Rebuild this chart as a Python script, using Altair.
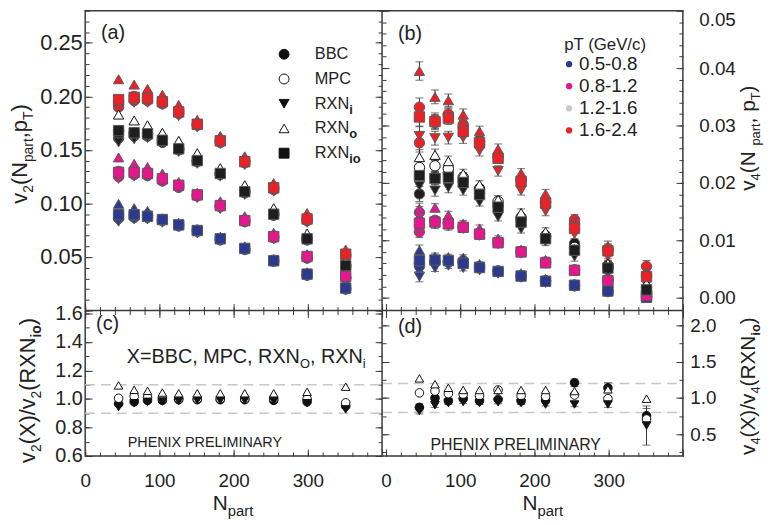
import altair as alt
import pandas as pd

FONT = "Liberation Sans"
INK = "#222222"
FRAME = "#3a3a3a"

# ---------------- categories ----------------
NPART = [45, 66, 84, 104, 126, 151, 182, 215, 254, 299, 351]
METHODS = ["BBC", "MPC", "RXNi", "RXNo", "RXNio"]
METHOD_SHAPES = ["circle", "circle", "triangle-down", "triangle-up", "square"]
OPEN_METHODS = ["MPC", "RXNo"]
LEGEND_MAIN = ["BBC", "MPC", "RXN", "RXN", "RXN"]
LEGEND_SUB = ["", "", "i", "o", "io"]
PT_BINS = ["0.5-0.8", "0.8-1.2", "1.2-1.6", "1.6-2.4"]
PT_MARKER_COLORS = ["#2b3a8f", "#e5168e", "#1e1e1e", "#ec2128"]
PT_LEGEND_COLORS = ["#2b3a8f", "#e5168e", "#c9c9c9", "#ec2128"]
RATIO_METHODS = ["BBC", "MPC", "RXNi", "RXNo"]

# ---------------- (a) v2 ----------------
V2_PT1_BBC = [0.086, 0.087, 0.087, 0.084, 0.079, 0.074, 0.066, 0.057, 0.046, 0.033, 0.020]
V2_PT1_MPC = [0.090, 0.090, 0.089, 0.085, 0.080, 0.075, 0.067, 0.058, 0.047, 0.034, 0.021]
V2_PT1_RXNI = [0.083, 0.085, 0.085, 0.082, 0.078, 0.072, 0.065, 0.056, 0.045, 0.032, 0.019]
V2_PT1_RXNO = [0.0996, 0.0956, 0.093, 0.086, 0.082, 0.076, 0.069, 0.060, 0.048, 0.0357, 0.023]
V2_PT1_RXNIO = [0.0895, 0.0895, 0.088, 0.085, 0.080, 0.0747, 0.067, 0.058, 0.0465, 0.034, 0.021]

V2_PT2_BBC = [0.125, 0.127, 0.126, 0.121, 0.115, 0.107, 0.097, 0.083, 0.068, 0.049, 0.030]
V2_PT2_MPC = [0.130, 0.131, 0.129, 0.123, 0.117, 0.108, 0.098, 0.084, 0.069, 0.050, 0.031]
V2_PT2_RXNI = [0.123, 0.125, 0.125, 0.120, 0.114, 0.105, 0.0947, 0.082, 0.0665, 0.048, 0.0296]
V2_PT2_RXNO = [0.143, 0.137, 0.134, 0.128, 0.120, 0.110, 0.102, 0.088, 0.0726, 0.0526, 0.034]
V2_PT2_RXNIO = [0.129, 0.129, 0.128, 0.123, 0.117, 0.108, 0.098, 0.084, 0.069, 0.0505, 0.032]

V2_PT3_BBC = [0.161, 0.163, 0.163, 0.157, 0.150, 0.139, 0.127, 0.110, 0.089, 0.066, 0.040]
V2_PT3_MPC = [0.168, 0.166, 0.165, 0.159, 0.151, 0.140, 0.128, 0.111, 0.090, 0.067, 0.042]
V2_PT3_RXNI = [0.157, 0.160, 0.161, 0.156, 0.148, 0.137, 0.125, 0.108, 0.088, 0.065, 0.039]
V2_PT3_RXNO = [0.183, 0.1775, 0.173, 0.166, 0.1585, 0.147, 0.133, 0.117, 0.0956, 0.072, 0.0465]
V2_PT3_RXNIO = [0.168, 0.166, 0.165, 0.159, 0.151, 0.140, 0.128, 0.111, 0.090, 0.067, 0.042]

V2_PT4_BBC = [0.190, 0.196, 0.196, 0.193, 0.184, 0.173, 0.157, 0.138, 0.113, 0.084, 0.051]
V2_PT4_MPC = [0.195, 0.200, 0.199, 0.195, 0.186, 0.174, 0.159, 0.140, 0.115, 0.085, 0.052]
V2_PT4_RXNI = [0.188, 0.194, 0.194, 0.192, 0.1815, 0.171, 0.1555, 0.136, 0.111, 0.082, 0.0495]
V2_PT4_RXNO = [0.216, 0.211, 0.207, 0.2015, 0.192, 0.178, 0.163, 0.144, 0.119, 0.091, 0.057]
V2_PT4_RXNIO = [0.197, 0.199, 0.198, 0.195, 0.1855, 0.174, 0.1585, 0.139, 0.1146, 0.0855, 0.0526]

# ---------------- (b) v4 ----------------
V4_PT1_BBC = [0.0060, 0.0062, 0.0062, 0.0065, 0.0052, 0.0047, 0.0038, 0.0030, 0.0021, 0.0011, 0.0001]
V4_PT1_MPC = [0.0055, 0.0064, 0.0064, 0.0062, 0.0054, 0.0046, 0.0038, 0.0030, 0.0022, 0.0012, 0.0002]
V4_PT1_RXNI = [0.0037, 0.0052, 0.0056, 0.0052, 0.0048, 0.0042, 0.0035, 0.0026, 0.0019, 0.0010, 0.0000]
V4_PT1_RXNO = [0.0083, 0.0072, 0.0071, 0.0070, 0.0059, 0.0049, 0.0043, 0.0033, 0.0025, 0.0015, 0.0004]
V4_PT1_RXNIO = [0.0065, 0.0066, 0.0065, 0.0060, 0.0053, 0.0046, 0.0038, 0.0029, 0.0022, 0.0012, 0.0001]

V4_PT2_BBC = [0.0149, 0.0133, 0.0130, 0.0124, 0.0112, 0.0096, 0.0080, 0.0062, 0.0048, 0.0031, 0.0003]
V4_PT2_MPC = [0.0115, 0.0135, 0.0131, 0.0124, 0.0112, 0.0097, 0.0081, 0.0062, 0.0049, 0.0031, 0.0005]
V4_PT2_RXNI = [0.0120, 0.0128, 0.0125, 0.0120, 0.0108, 0.0094, 0.0077, 0.0059, 0.0046, 0.0028, 0.0002]
V4_PT2_RXNO = [0.0155, 0.0157, 0.0144, 0.0129, 0.0121, 0.0103, 0.0084, 0.0066, 0.0050, 0.0034, 0.0008]
V4_PT2_RXNIO = [0.0130, 0.0132, 0.0129, 0.0123, 0.0111, 0.0096, 0.0080, 0.0061, 0.0048, 0.0030, 0.0004]

V4_PT3_BBC = [0.0181, 0.0211, 0.0218, 0.0203, 0.0182, 0.0160, 0.0135, 0.0105, 0.0095, 0.0057, 0.0018]
V4_PT3_MPC = [0.0227, 0.0230, 0.0225, 0.0210, 0.0190, 0.0168, 0.0140, 0.0108, 0.0088, 0.0053, 0.0012]
V4_PT3_RXNI = [0.0195, 0.0187, 0.0192, 0.0187, 0.0167, 0.0141, 0.0120, 0.0098, 0.0072, 0.0043, 0.0009]
V4_PT3_RXNO = [0.0245, 0.0249, 0.0238, 0.0216, 0.0197, 0.0171, 0.0148, 0.0115, 0.0085, 0.0060, 0.0025]
V4_PT3_RXNIO = [0.0213, 0.0208, 0.0210, 0.0201, 0.0180, 0.0158, 0.0132, 0.0103, 0.0083, 0.0052, 0.0014]

V4_PT4_BBC = [0.0270, 0.0310, 0.0318, 0.0302, 0.0272, 0.0247, 0.0205, 0.0168, 0.0136, 0.0085, 0.0055]
V4_PT4_MPC = [0.0332, 0.0305, 0.0320, 0.0298, 0.0268, 0.0245, 0.0205, 0.0166, 0.0130, 0.0083, 0.0040]
V4_PT4_RXNI = [0.0282, 0.0278, 0.0279, 0.0279, 0.0256, 0.0221, 0.0187, 0.0151, 0.0111, 0.0072, 0.0029]
V4_PT4_RXNO = [0.0395, 0.0350, 0.0344, 0.0319, 0.0290, 0.0259, 0.0217, 0.0181, 0.0128, 0.0090, 0.0045]
V4_PT4_RXNIO = [0.0315, 0.0307, 0.0313, 0.0290, 0.0270, 0.0243, 0.0203, 0.0165, 0.0121, 0.0082, 0.0037]

V4_ERR_PT1 = [0.0009, 0.0006, 0.0005, 0.0005, 0.0004, 0.0004, 0.0004, 0.0004, 0.0005, 0.0005, 0.0006]
V4_ERR_PT2 = [0.0010, 0.0007, 0.0007, 0.0006, 0.0006, 0.0005, 0.0005, 0.0005, 0.0006, 0.0006, 0.0007]
V4_ERR_PT3 = [0.0013, 0.0010, 0.0009, 0.0008, 0.0007, 0.0007, 0.0007, 0.0007, 0.0008, 0.0008, 0.0009]
V4_ERR_PT4 = [0.0016, 0.0012, 0.0011, 0.0010, 0.0009, 0.0009, 0.0008, 0.0008, 0.0009, 0.0009, 0.0010]

# ---------------- (c) v2 ratios ----------------
R2_BBC = [0.966, 0.980, 0.990, 0.990, 0.995, 0.995, 0.995, 0.995, 0.990, 0.980, 0.950]
R2_MPC = [1.005, 1.018, 1.010, 1.005, 1.000, 1.000, 1.000, 1.000, 1.000, 1.000, 0.973]
R2_RXNI = [0.943, 0.970, 0.980, 0.982, 0.985, 0.990, 0.990, 0.990, 0.985, 0.970, 0.927]
R2_RXNO = [1.095, 1.064, 1.057, 1.045, 1.040, 1.040, 1.040, 1.040, 1.040, 1.050, 1.086]

# ---------------- (d) v4 ratios ----------------
R4_BBC = [0.87, 1.00, 0.96, 0.99, 0.96, 0.98, 0.96, 0.97, 1.21, 1.14, 0.755]
R4_MPC = [1.07, 1.095, 1.06, 1.05, 1.03, 1.11, 1.03, 1.02, 1.04, 0.99, 0.71]
R4_RXNI = [0.82, 0.90, 0.93, 0.945, 0.93, 0.94, 0.93, 0.91, 0.91, 0.91, 0.62]
R4_RXNO = [1.27, 1.19, 1.14, 1.11, 1.11, 1.11, 1.11, 1.11, 1.095, 1.12, 0.99]
R4_ERR_BBC = [0.05, 0.03, 0.03, 0.02, 0.02, 0.02, 0.02, 0.02, 0.05, 0.07, 0.10]
R4_ERR_RXNI = [0.04, 0.03, 0.02, 0.02, 0.02, 0.02, 0.02, 0.02, 0.03, 0.04, 0.27]

C_BANDS = [0.9, 1.1]
D_BANDS = [0.8, 1.2]

V2_TABLE = {
    "0.5-0.8": [V2_PT1_BBC, V2_PT1_MPC, V2_PT1_RXNI, V2_PT1_RXNO, V2_PT1_RXNIO],
    "0.8-1.2": [V2_PT2_BBC, V2_PT2_MPC, V2_PT2_RXNI, V2_PT2_RXNO, V2_PT2_RXNIO],
    "1.2-1.6": [V2_PT3_BBC, V2_PT3_MPC, V2_PT3_RXNI, V2_PT3_RXNO, V2_PT3_RXNIO],
    "1.6-2.4": [V2_PT4_BBC, V2_PT4_MPC, V2_PT4_RXNI, V2_PT4_RXNO, V2_PT4_RXNIO],
}
V4_TABLE = {
    "0.5-0.8": [V4_PT1_BBC, V4_PT1_MPC, V4_PT1_RXNI, V4_PT1_RXNO, V4_PT1_RXNIO],
    "0.8-1.2": [V4_PT2_BBC, V4_PT2_MPC, V4_PT2_RXNI, V4_PT2_RXNO, V4_PT2_RXNIO],
    "1.2-1.6": [V4_PT3_BBC, V4_PT3_MPC, V4_PT3_RXNI, V4_PT3_RXNO, V4_PT3_RXNIO],
    "1.6-2.4": [V4_PT4_BBC, V4_PT4_MPC, V4_PT4_RXNI, V4_PT4_RXNO, V4_PT4_RXNIO],
}
V4_ERRORS = {"0.5-0.8": V4_ERR_PT1, "0.8-1.2": V4_ERR_PT2, "1.2-1.6": V4_ERR_PT3, "1.6-2.4": V4_ERR_PT4}
R2_TABLE = [R2_BBC, R2_MPC, R2_RXNI, R2_RXNO]
R4_TABLE = [R4_BBC, R4_MPC, R4_RXNI, R4_RXNO]
R4_ERRORS = {"BBC": R4_ERR_BBC, "RXNi": R4_ERR_RXNI}

# ---------------- layout ----------------
W, H = 604, 450
SPLIT_X, SPLIT_Y = 300, 303


def sc(domain, rng):
    return alt.Scale(domain=domain, range=rng, nice=False, zero=False)


XA_DOM, XB_DOM = [0, 400], [-16 / 3, 400]
YA_DOM, YB_DOM, YC_DOM, YD_DOM = [0, 0.28], [-0.0022, 0.05], [0.6, 1.62], [0.2, 2.205]
XA = sc(XA_DOM, [0, SPLIT_X])
XB = sc(XB_DOM, [SPLIT_X, W])
YA = sc(YA_DOM, [SPLIT_Y, 0])
YB = sc(YB_DOM, [SPLIT_Y, 0])
YC = sc(YC_DOM, [H, SPLIT_Y])
YD = sc(YD_DOM, [H, SPLIT_Y])
SHAPE_SCALE = alt.Scale(domain=METHODS, range=METHOD_SHAPES)


def build_points(table, errors=None):
    rows = []
    for mi, m in enumerate(METHODS):
        for bi, b in enumerate(PT_BINS):
            for k, (n, v) in enumerate(zip(NPART, table[b][mi])):
                is_open = b == "1.2-1.6" and m in OPEN_METHODS
                e = errors[b][k] if errors else 0.0
                rows.append({"npart": n, "v": v, "method": m, "pt": b,
                             "fill": "#ffffff" if is_open else PT_MARKER_COLORS[bi],
                             "stroke": "#111111" if is_open else "#5a5a5a",
                             "lo": v - e, "hi": v + e})
    return pd.DataFrame(rows)


def build_ratios(table, errors):
    rows = []
    for mi, m in enumerate(RATIO_METHODS):
        for k, (n, v) in enumerate(zip(NPART, table[mi])):
            e = errors[m][k] if m in errors else 0.0
            rows.append({"npart": n, "v": v, "method": m,
                         "fill": "#ffffff" if m in OPEN_METHODS else "#111111",
                         "stroke": "#111111", "lo": v - e, "hi": v + e, "e": e})
    return pd.DataFrame(rows)


def point_layer(df, xs, ys, size):
    return alt.Chart(df).mark_point(filled=True, size=size, opacity=1, strokeWidth=1).encode(
        x=alt.X("npart:Q", scale=xs, axis=None),
        y=alt.Y("v:Q", scale=ys, axis=None),
        shape=alt.Shape("method:N", scale=SHAPE_SCALE, legend=None),
        fill=alt.Fill("fill:N", scale=None),
        stroke=alt.Stroke("stroke:N", scale=None),
    )


def error_layers(df, xs, ys, cap=8):
    rule = alt.Chart(df).mark_rule(color="#333333", strokeWidth=1).encode(
        x=alt.X("npart:Q", scale=xs, axis=None),
        y=alt.Y("lo:Q", scale=ys, axis=None), y2="hi:Q")
    lo = alt.Chart(df).mark_tick(color="#333333", thickness=1, size=cap, orient="horizontal").encode(
        x=alt.X("npart:Q", scale=xs, axis=None), y=alt.Y("lo:Q", scale=ys, axis=None))
    hi = alt.Chart(df).mark_tick(color="#333333", thickness=1, size=cap, orient="horizontal").encode(
        x=alt.X("npart:Q", scale=xs, axis=None), y=alt.Y("hi:Q", scale=ys, axis=None))
    return [rule, lo, hi]


def band_layer(values, ys, x0, x1):
    return alt.Chart(pd.DataFrame({"y": values})).mark_rule(
        color="#c8c8c8", strokeDash=[10, 6], strokeWidth=1.5).encode(
        y=alt.Y("y:Q", scale=ys, axis=None), x=alt.value(x0), x2=alt.value(x1))


def tick_axis(orient, values, size, k):
    return alt.Axis(orient=orient, values=values, ticks=True, tickSize=size, tickColor=FRAME,
                    tickWidth=1, offset=-k, labels=False, domain=False, grid=False, title="")


def label_axis(orient, values, fmt, fsize, pad, flush=False):
    return alt.Axis(orient=orient, values=values, format=fmt, ticks=False, tickSize=0,
                    labelPadding=pad, labelFontSize=fsize, labelFont=FONT, labelColor=INK,
                    labelFlush=flush, labelOverlap=False, domain=False, grid=False, title="")


def axis_layer(xs, ys, xdom, ydom, xaxis, yaxis):
    df = pd.DataFrame({"x": [(xdom[0] + xdom[1]) / 2], "y": [(ydom[0] + ydom[1]) / 2]})
    return alt.Chart(df).mark_point(opacity=0, size=1).encode(
        x=alt.X("x:Q", scale=xs, axis=xaxis), y=alt.Y("y:Q", scale=ys, axis=yaxis))


def panel_axes(xs, ys, xdom, ydom, xlab, ylab, xticks, yticks):
    pairs = [(xlab, ylab)]
    n = max(len(xticks), len(yticks))
    for i in range(n):
        pairs.append((xticks[i] if i < len(xticks) else None, yticks[i] if i < len(yticks) else None))
    return [axis_layer(xs, ys, xdom, ydom, a, b) for a, b in pairs]


CW = {' ': .278, '(': .333, ')': .333, ',': .278, '-': .333, '.': .278, '/': .278, '=': .584,
      'A': .667, 'B': .667, 'C': .722, 'E': .667, 'G': .778, 'H': .722, 'I': .278, 'L': .556,
      'M': .833, 'N': .722, 'O': .778, 'P': .667, 'R': .722, 'T': .611, 'V': .667, 'X': .667,
      'Y': .667, 'a': .556, 'c': .5, 'e': .556, 'i': .222, 'o': .556, 'p': .556, 'r': .333,
      't': .278, 'v': .5}
CWB = {'i': .278, 'o': .611}


def tw(s, size, bold=False):
    return sum((CWB[c] if bold and c in CWB else CW.get(c, .556)) for c in s) * size


def rich(segs, x, y, angle=0):
    out, adv = [], 0.0
    for txt, size, shift, bold in segs:
        out.append(alt.Chart(pd.DataFrame({"t": [txt]})).mark_text(
            align="left", baseline="alphabetic", angle=angle, dx=adv, dy=shift,
            fontSize=size, font=FONT, fontWeight="bold" if bold else "normal", color=INK
        ).encode(x=alt.value(x), y=alt.value(y), text="t:N"))
        adv += tw(txt, size, bold)
    return out


def plain(txt, x, y, size, baseline="middle"):
    return alt.Chart(pd.DataFrame({"t": [txt]})).mark_text(
        align="left", baseline=baseline, fontSize=size, font=FONT, color=INK
    ).encode(x=alt.value(x), y=alt.value(y), text="t:N")


XMAJ = [0, 100, 200, 300, 400]
XMIN = list(range(0, 401, 20))
layers = []

# ---- panel (a)
df_a = build_points(V2_TABLE)
layers += panel_axes(
    XA, YA, XA_DOM, YA_DOM, None,
    label_axis("left", [0.05, 0.10, 0.15, 0.20, 0.25], ".2f", 22, 3),
    [tick_axis("bottom", XMAJ, 7, H - SPLIT_Y + 7), tick_axis("bottom", XMIN, 4, H - SPLIT_Y + 4)],
    [tick_axis("left", [0, 0.05, 0.10, 0.15, 0.20, 0.25], 7, 7),
     tick_axis("left", [round(0.01 * i, 2) for i in range(29)], 4, 4),
     tick_axis("right", [0, 0.05, 0.10, 0.15, 0.20, 0.25], 7, W - SPLIT_X + 7),
     tick_axis("right", [round(0.01 * i, 2) for i in range(29)], 4, W - SPLIT_X + 4)])
layers.append(point_layer(df_a, XA, YA, 110))

# ---- panel (b)
df_b = build_points(V4_TABLE, V4_ERRORS)
layers += panel_axes(
    XB, YB, XB_DOM, YB_DOM, None,
    label_axis("right", [0.0, 0.01, 0.02, 0.03, 0.04, 0.05], ".2f", 19, 16, True),
    [tick_axis("bottom", XMAJ, 7, H - SPLIT_Y + 7), tick_axis("bottom", XMIN, 4, H - SPLIT_Y + 4)],
    [tick_axis("right", [0.0, 0.01, 0.02, 0.03, 0.04, 0.05], 7, 7),
     tick_axis("right", [round(0.002 * i, 3) for i in range(26)], 4, 4),
     tick_axis("left", [0.0, 0.01, 0.02, 0.03, 0.04, 0.05], 7, SPLIT_X + 7),
     tick_axis("left", [round(0.002 * i, 3) for i in range(26)], 4, SPLIT_X + 4)])
layers += error_layers(df_b, XB, YB)
layers.append(point_layer(df_b, XB, YB, 110))

# ---- panel (c)
df_c = build_ratios(R2_TABLE, {})
C_MAJ = [0.6, 0.8, 1.0, 1.2, 1.4, 1.6]
C_MIN = [0.6, 0.7, 0.8, 0.9, 1.0, 1.1, 1.2, 1.3, 1.4, 1.5, 1.6]
layers += panel_axes(
    XA, YC, XA_DOM, YC_DOM,
    label_axis("bottom", [0, 100, 200, 300], "d", 19, 16),
    label_axis("left", C_MAJ, ".1f", 20, 3),
    [tick_axis("bottom", XMAJ, 7, 7), tick_axis("bottom", XMIN, 4, 4),
     tick_axis("top", XMAJ, 7, SPLIT_Y + 7), tick_axis("top", XMIN, 4, SPLIT_Y + 4)],
    [tick_axis("left", C_MAJ, 7, 7), tick_axis("left", C_MIN, 4, 4),
     tick_axis("right", C_MAJ, 7, W - SPLIT_X + 7), tick_axis("right", C_MIN, 4, W - SPLIT_X + 4)])
layers.append(band_layer(C_BANDS, YC, 0, SPLIT_X))
layers.append(point_layer(df_c, XA, YC, 75))

# ---- panel (d)
df_d = build_ratios(R4_TABLE, R4_ERRORS)
D_MAJ = [0.5, 1.0, 1.5, 2.0]
D_MIN = [0.25, 0.5, 0.75, 1.0, 1.25, 1.5, 1.75, 2.0]
layers += panel_axes(
    XB, YD, XB_DOM, YD_DOM,
    label_axis("bottom", [0, 100, 200, 300], "d", 19, 16),
    label_axis("right", D_MAJ, ".1f", 19, 7),
    [tick_axis("bottom", XMAJ, 7, 7), tick_axis("bottom", XMIN, 4, 4),
     tick_axis("top", XMAJ, 7, SPLIT_Y + 7), tick_axis("top", XMIN, 4, SPLIT_Y + 4)],
    [tick_axis("right", D_MAJ, 7, 7), tick_axis("right", D_MIN, 4, 4),
     tick_axis("left", D_MAJ, 7, SPLIT_X + 7), tick_axis("left", D_MIN, 4, SPLIT_X + 4)])
layers.append(band_layer(D_BANDS, YD, SPLIT_X, W))
layers += error_layers(df_d[df_d["e"] > 0], XB, YD)
layers.append(point_layer(df_d, XB, YD, 75))

# ---- dividers between panels
layers.append(alt.Chart(pd.DataFrame({"k": [0]})).mark_rule(color=FRAME, strokeWidth=1.5).encode(
    x=alt.value(SPLIT_X), y=alt.value(0), y2=alt.value(H)))
layers.append(alt.Chart(pd.DataFrame({"k": [0]})).mark_rule(color=FRAME, strokeWidth=1.5).encode(
    y=alt.value(SPLIT_Y), x=alt.value(0), x2=alt.value(W)))

# ---- legend (a): methods
leg_a = pd.DataFrame({"method": METHODS, "main": LEGEND_MAIN, "sub": LEGEND_SUB,
                      "fill": ["#ffffff" if m in OPEN_METHODS else "#111111" for m in METHODS]})
LEG_A_Y = alt.Scale(domain=METHODS, range=[44, 144], padding=0)
layers.append(alt.Chart(leg_a).mark_point(filled=True, size=100, opacity=1, stroke="#111111", strokeWidth=1).encode(
    x=alt.value(201), y=alt.Y("method:N", scale=LEG_A_Y, axis=None),
    shape=alt.Shape("method:N", scale=SHAPE_SCALE, legend=None), fill=alt.Fill("fill:N", scale=None)))
layers.append(alt.Chart(leg_a).mark_text(align="left", baseline="middle", fontSize=16.5, font=FONT, color=INK).encode(
    x=alt.value(232), y=alt.Y("method:N", scale=LEG_A_Y, axis=None), text="main:N"))
layers.append(alt.Chart(leg_a).mark_text(align="left", baseline="middle", fontSize=13, fontWeight="bold",
                                         font=FONT, color=INK, dx=tw("RXN", 16.5), dy=6).encode(
    x=alt.value(232), y=alt.Y("method:N", scale=LEG_A_Y, axis=None), text="sub:N"))

# ---- legend (b): pT bins
leg_b = pd.DataFrame({"pt": PT_BINS, "color": PT_LEGEND_COLORS})
LEG_B_Y = alt.Scale(domain=PT_BINS, range=[54, 121], padding=0)
layers.append(plain("pT (GeV/c)", 484, 35, 17))
layers.append(alt.Chart(leg_b).mark_circle(size=40, opacity=1).encode(
    x=alt.value(489), y=alt.Y("pt:N", scale=LEG_B_Y, axis=None), color=alt.Color("color:N", scale=None)))
layers.append(alt.Chart(leg_b).mark_text(align="left", baseline="middle", fontSize=19, font=FONT, color=INK).encode(
    x=alt.value(499), y=alt.Y("pt:N", scale=LEG_B_Y, axis=None), text="pt:N"))

# ---- panel tags and notes
layers.append(plain("(a)", 16, 23, 20))
layers.append(plain("(b)", 316, 24, 20))
layers.append(plain("(c)", 11, 317, 20))
layers.append(plain("(d)", 316, 320, 20))
layers += rich([("X=BBC, MPC, RXN", 20, 0, False), ("O", 13, 5, False), (", RXN", 20, 0, False), ("i", 13, 5, False)], 42, 356)
layers.append(plain("PHENIX PRELIMINARY", 43, 441, 14.5, "alphabetic"))
layers.append(plain("PHENIX PRELIMINARY", 349, 444, 16, "alphabetic"))

# ---- axis titles
layers += rich([("v", 22, 0, False), ("2", 14, 6, False), ("(N", 22, 0, False), ("part", 14, 6, False),
                (",p", 22, 0, False), ("T", 14, 6, False), (")", 22, 0, False)], -59, 195, 270)
layers += rich([("v", 22, 0, False), ("2", 14, 6, False), ("(X)/v", 22, 0, False), ("2", 14, 6, False),
                ("(RXN", 22, 0, False), ("io", 14, 6, True), (")", 22, 0, False)], -51, 457, 270)
layers += rich([("v", 21, 0, False), ("4", 13, 5, False), (" (N", 21, 0, False), ("part", 13, 5, False),
                (", p", 21, 0, False), ("T", 13, 5, False), (" )", 21, 0, False)], 677, 182, 270)
layers += rich([("v", 21, 0, False), ("4", 13, 5, False), ("(X)/v", 21, 0, False), ("4", 13, 5, False),
                ("(RXN", 21, 0, False), ("io", 13, 5, True), (")", 21, 0, False)], 677, 449, 270)
layers += rich([("N", 21, 0, False), ("part", 15, 6, False)], 129, 505)
layers += rich([("N", 21, 0, False), ("part", 15, 6, False)], 442, 505)

chart = alt.layer(*layers).properties(
    width=W, height=H,
    autosize=alt.AutoSizeParams(type="none"),
    padding={"left": 78, "top": 0, "right": 85, "bottom": 67},
).resolve_scale(x="independent", y="independent").configure_view(stroke=FRAME, strokeWidth=1.5)

chart.save("out.html", embed_options={"renderer": "svg", "actions": False})
